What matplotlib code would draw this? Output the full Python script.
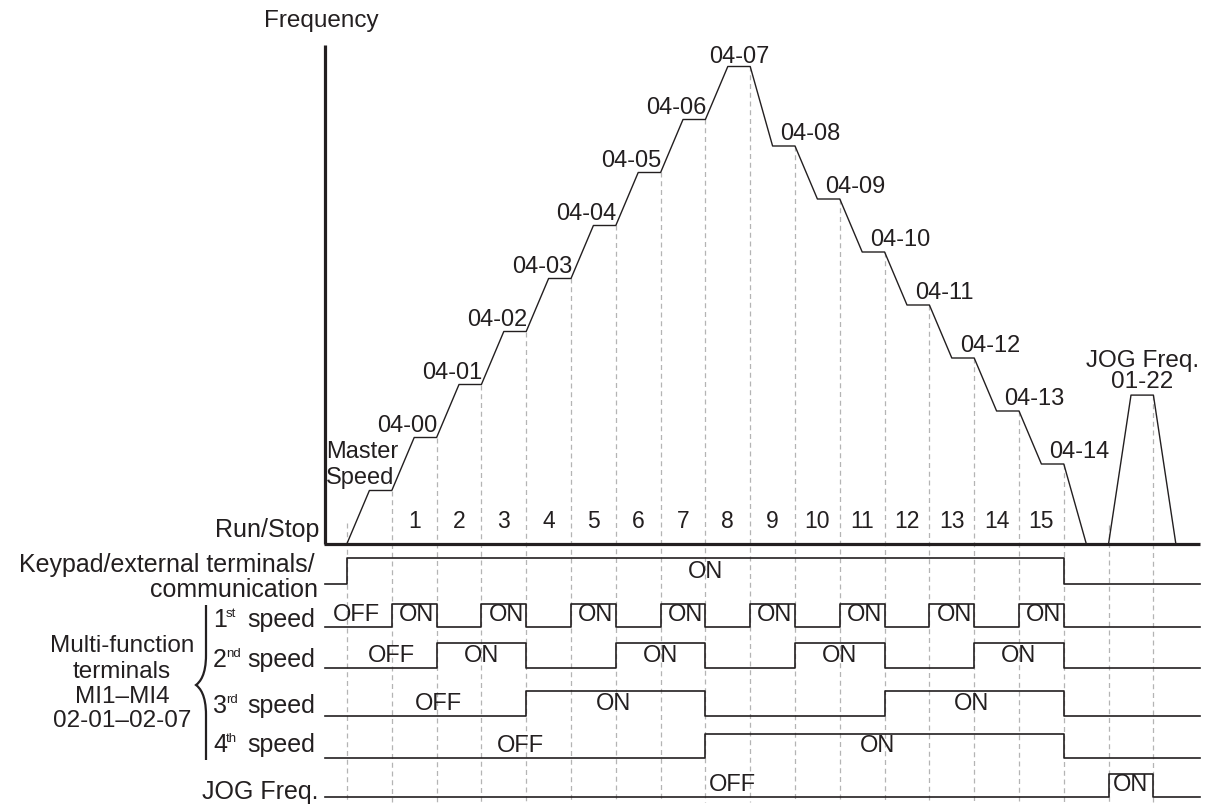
import matplotlib.pyplot as plt
from matplotlib.path import Path
from matplotlib.patches import PathPatch

plt.rcParams['font.family'] = ['Liberation Sans', 'DejaVu Sans']

# frequency levels (relative units), master speed + parameters 04-00 .. 04-14
master_speed = 1.0
step_names = ['04-00', '04-01', '04-02', '04-03', '04-04', '04-05', '04-06', '04-07',
              '04-08', '04-09', '04-10', '04-11', '04-12', '04-13', '04-14']
step_levels = [2.0, 3.0, 4.0, 5.0, 6.0, 7.0, 8.0, 9.0, 7.5, 6.5, 5.5, 4.5, 3.5, 2.5, 1.5]
step_numbers = ['1', '2', '3', '4', '5', '6', '7', '8', '9', '10', '11', '12', '13', '14', '15']
jog_level = 2.8
ramp = 0.5  # accel/decel time, in step widths

# ON intervals of the terminals (time in step widths, run command at t=0)
keypad_on = [(0, 16)]
speed1_on = [(1, 2), (3, 4), (5, 6), (7, 8), (9, 10), (11, 12), (13, 14), (15, 16)]
speed2_on = [(2, 4), (6, 8), (10, 12), (14, 16)]
speed3_on = [(4, 8), (12, 16)]
speed4_on = [(8, 16)]
jog_on = [(17, 18)]

INK = '#231f20'
DASH = '#b4b4b4'

# layout: pixel anchors of the original picture
W, H = 1208, 805
X0, DX = 347, 44.8
Y0, DY = 543.5, 53.0


def tx(px):
    return (px - X0) / DX


def fy(py):
    return (Y0 - py) / DY


fig = plt.figure(figsize=(W / 100, H / 100), dpi=100)
ax = fig.add_axes([0, 0, 1, 1])
ax.set_xlim(tx(0), tx(W))
ax.set_ylim(fy(H), fy(0))
ax.axis('off')

# axes of the frequency plot
ax.plot([tx(325), tx(325)], [fy(45), 0], color=INK, lw=2.3, solid_capstyle='butt')
ax.plot([tx(324), tx(1200)], [0, 0], color=INK, lw=2.3, solid_capstyle='butt')

# frequency curve
levels = [master_speed] + step_levels
ts, fs = [0], [0]
for i, lev in enumerate(levels):
    ts += [i + ramp, i + 1]
    fs += [lev, lev]
ts.append(len(levels) + ramp)
fs.append(0)
ax.plot(ts, fs, color=INK, lw=1.0)

jog_start = jog_on[0][0]
ax.plot([jog_start, jog_start + ramp, jog_start + 1, jog_start + 1 + ramp],
        [0, jog_level, jog_level, 0], color=INK, lw=1.0)

# dashed guide lines
guides = [(0, fy(523))] + [(i + 1, lev) for i, lev in enumerate(levels)]
guides += [(jog_start, fy(525)), (jog_start + 1, jog_level)]
for t, top in guides:
    ax.plot([t, t], [top, fy(802)], color=DASH, lw=0.9, ls=(0, (4, 3)), zorder=0)

# step labels
for i, (name, lev) in enumerate(zip(step_names, step_levels)):
    if i < 7:
        ax.annotate(name, (i + 2, lev), xytext=(1, 6), textcoords='offset pixels',
                    ha='right', va='baseline', fontsize=17, color=INK)
    elif i == 7:
        ax.annotate(name, (i + 1 + 0.75, lev), xytext=(0, 4), textcoords='offset pixels',
                    ha='center', va='baseline', fontsize=17, color=INK)
    else:
        ax.annotate(name, (i + 1 + ramp, lev), xytext=(8, 6), textcoords='offset pixels',
                    ha='left', va='baseline', fontsize=17, color=INK)

ax.text(tx(326), fy(458), 'Master', ha='left', va='baseline', fontsize=17, color=INK)
ax.text(tx(326), fy(484), 'Speed', ha='left', va='baseline', fontsize=17, color=INK)
ax.text(jog_start + 0.75, fy(367), 'JOG Freq.', ha='center', va='baseline', fontsize=17.5, color=INK)
ax.text(jog_start + 0.75, fy(388), '01-22', ha='center', va='baseline', fontsize=17.5, color=INK)
ax.text(tx(321), fy(27), 'Frequency', ha='center', va='baseline', fontsize=17.5, color=INK)

for i, num in enumerate(step_numbers):
    ax.text(i + 1.5, fy(528), num, ha='center', va='baseline', fontsize=16.5, color=INK)

# terminal timing rows: (intervals, low line px, pulse height px, [(text, t)])
rows = [
    (keypad_on, 583.5, 26, [('ON', 8.0)]),
    (speed1_on, 627, 23, [('OFF', 0.22)] + [('ON', a + 0.55) for a, b in speed1_on]),
    (speed2_on, 667.5, 25, [('OFF', 1.0)] + [('ON', (a + b) / 2) for a, b in speed2_on]),
    (speed3_on, 716, 25, [('OFF', 2.03), ('ON', 5.95), ('ON', 13.93)]),
    (speed4_on, 758, 24, [('OFF', 3.88), ('ON', 11.85)]),
    (jog_on, 797, 23, [('OFF', 8.6), ('ON', 17.5)]),
]
for intervals, low_px, high_px, texts in rows:
    lo, hi = fy(low_px), fy(low_px - high_px)
    xs, ys = [tx(325)], [lo]
    for a, b in intervals:
        xs += [a, a, b, b]
        ys += [lo, hi, hi, lo]
    xs.append(tx(1200))
    ys.append(lo)
    ax.plot(xs, ys, color=INK, lw=1.2)
    for txt, t in texts:
        ax.text(t, fy(low_px - 12), txt, ha='center', va='center', fontsize=17, color=INK)

left_labels = [
    ('Run/Stop', 319, 537),
    ('Keypad/external terminals/', 315, 572),
    ('communication', 318, 597),
    ('speed', 315, 627),
    ('speed', 315, 667),
    ('speed', 315, 713),
    ('speed', 315, 752),
    ('JOG Freq.', 318, 799),
]
for txt, px, py in left_labels:
    ax.text(tx(px), fy(py), txt, ha='right', va='baseline', fontsize=18, color=INK)

# ordinal numbers with small superscripts
ordinals = [('1', 'st', 627), ('2', 'nd', 667), ('3', 'rd', 713), ('4', 'th', 752)]
for digit, suffix, py in ordinals:
    ax.text(tx(213), fy(py), digit, ha='left', va='baseline', fontsize=18, color=INK)
    ax.text(tx(226), fy(py - 10), suffix, ha='left', va='baseline', fontsize=9.5, color=INK)

group_lines = [('Multi-function', 652), ('terminals', 678), ('MI1\u2013MI4', 703),
               ('02-01\u201302-07', 727)]
for txt, py in group_lines:
    ax.text(tx(122), fy(py), txt, ha='center', va='baseline', fontsize=17.5, color=INK)

# curly brace
bx, tipx = 206, 196
pts = [(bx, 605), (bx, 655), (bx, 675), (200, 682), (tipx, 685),
       (200, 688), (bx, 695), (bx, 715), (bx, 760)]
codes = [Path.MOVETO, Path.LINETO, Path.CURVE4, Path.CURVE4, Path.CURVE4,
         Path.CURVE4, Path.CURVE4, Path.CURVE4, Path.LINETO]
brace = Path([(tx(x), fy(y)) for x, y in pts], codes)
ax.add_patch(PathPatch(brace, fill=False, edgecolor=INK, lw=1.6))

fig.savefig('out.png', dpi=100)
